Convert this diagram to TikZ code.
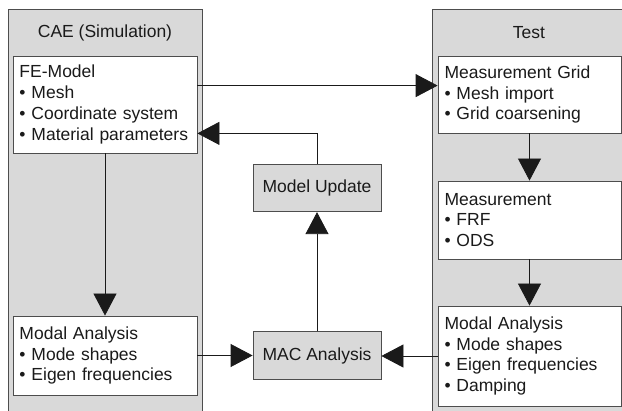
\documentclass[tikz,border=0pt]{standalone}
\usepackage{fontspec}
\setmainfont{Liberation Sans}
\usetikzlibrary{arrows.meta,calc}
\definecolor{panelgray}{HTML}{D9D9D9}
\definecolor{edgegray}{HTML}{4D4D4D}
\definecolor{inkc}{HTML}{1A1A1A}
\begin{document}
\begin{tikzpicture}[x=1pt,y=-1pt,
  panel/.style={draw=edgegray,fill=panelgray,line width=0.8pt},
  listbox/.style={draw=edgegray,fill=white,line width=0.8pt,inner sep=0pt,
    text width=#1,align=left,font=\fontsize{17.5}{20.8}\selectfont,text=inkc},
  graybox/.style={draw=edgegray,fill=panelgray,line width=0.8pt,minimum width=128pt,
    minimum height=47.5pt,font=\fontsize{17.5}{20.8}\selectfont,text=inkc},
  title/.style={font=\fontsize{17.5}{20.8}\selectfont,text=inkc},
  conn/.style={draw=inkc,line width=0.8pt,-{Triangle[length=22pt,width=23pt]}}]
\useasboundingbox (0,0) rectangle (622,411);
\clip (0,0) rectangle (622,411);
\fill[white] (0,0) rectangle (622,411);
% panels
\draw[panel] (8,9) rectangle (202,420);
\draw[panel] (432,9) rectangle (630,420);
\node[title] (caeT) at (105,33) {CAE (Simulation)};
\node[title] (testT) at (529,33) {Test};
% boxes
\node[listbox=171pt,minimum width=184pt,minimum height=97pt] (fe) at (105,104.5)
  {FE-Model\\\textbullet\ Mesh\\\textbullet\ Coordinate system\\\textbullet\ Material parameters};
\node[listbox=171pt,minimum width=184pt,minimum height=79pt] (modl) at (105,355.5)
  {Modal Analysis\\\textbullet\ Mode shapes\\\textbullet\ Eigen frequencies};
\node[listbox=170pt,minimum width=183pt,minimum height=77pt] (grid) at (529.5,94.5)
  {Measurement Grid\\\textbullet\ Mesh import\\\textbullet\ Grid coarsening};
\node[listbox=170pt,minimum width=183pt,minimum height=78pt] (meas) at (529.5,220)
  {Measurement\\\textbullet\ FRF\\\textbullet\ ODS};
\node[listbox=170pt,minimum width=183pt,minimum height=100pt] (modr) at (529.5,356)
  {Modal Analysis\\\textbullet\ Mode shapes\\\textbullet\ Eigen frequencies\\\textbullet\ Damping};
\node[graybox] (upd) at (317,188) {Model Update};
\node[graybox] (mac) at (317,355.5) {MAC Analysis};
% connectors
\coordinate (feout) at ($(fe.north east)+(0,30)$);
\draw[conn] (feout) -- (feout -| grid.west);
\coordinate (fein) at ($(fe.south east)+(0,-20)$);
\draw[conn] (upd.north) |- (fein);
\draw[conn] (fe.south) -- (modl.north);
\draw[conn] (modl.east) -- (modl.east -| mac.west);
\draw[conn] (mac.north) -- (upd.south);
\draw[conn] (modr.west) -- (modr.west -| mac.east);
\draw[conn] (grid.south) -- (meas.north);
\draw[conn] (meas.south) -- (modr.north);
\end{tikzpicture}
\end{document}
